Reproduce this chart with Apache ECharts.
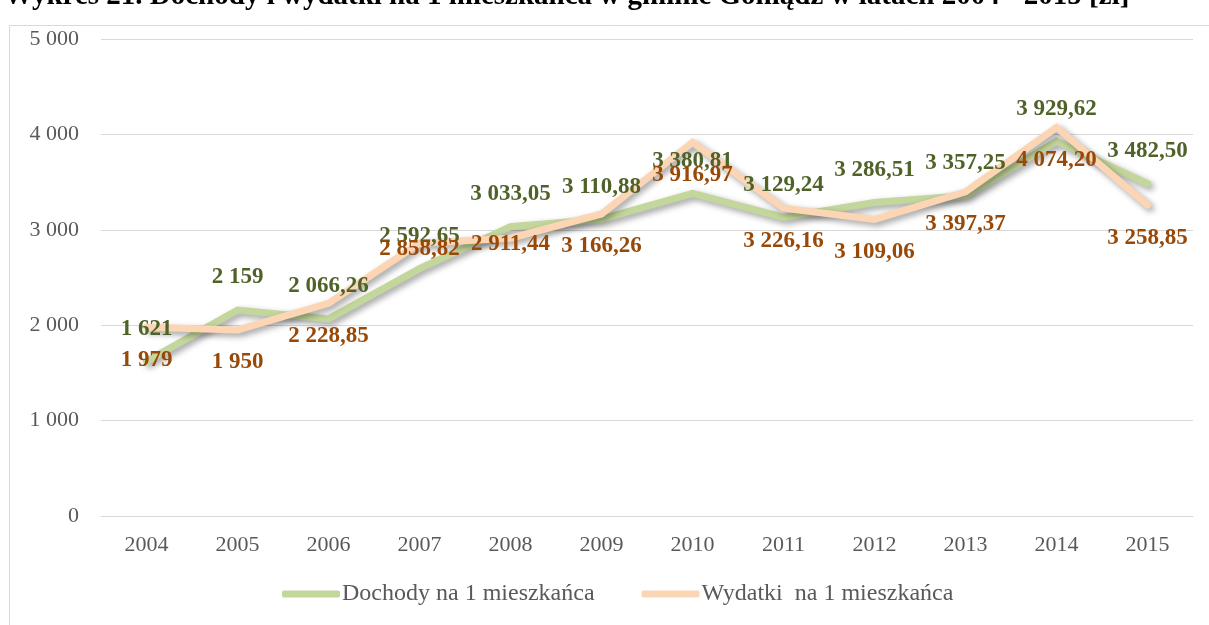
<!DOCTYPE html>
<html>
<head>
<meta charset="utf-8">
<script src="https://cdn.jsdelivr.net/npm/echarts@6/dist/echarts.min.js"></script>
<style>
  html, body { margin: 0; padding: 0; background: #fff; }
  #chart { width: 1209px; height: 625px; }
</style>
</head>
<body>
<div id="chart"></div>
<script>
var years = ['2004','2005','2006','2007','2008','2009','2010','2011','2012','2013','2014','2015'];
var dochody = [1621, 2159, 2066.26, 2592.65, 3033.05, 3110.88, 3380.81, 3129.24, 3286.51, 3357.25, 3929.62, 3482.50];
var wydatki = [1979, 1950, 2228.85, 2858.82, 2911.44, 3166.26, 3916.97, 3226.16, 3109.06, 3397.37, 4074.20, 3258.85];
var yTicks = [0, 1000, 2000, 3000, 4000, 5000];

function fmt(v) {
    var s = (Math.round(v) === v) ? String(v) : v.toFixed(2);
    var parts = s.split('.');
    var intPart = parts[0].replace(/\B(?=(\d{3})+(?!\d))/g, ' ');
    return parts.length > 1 ? intPart + ',' + parts[1] : intPart;
}

// labels of the 2007 and 2008 expenses sit on the line in the original
var wydatkiData = wydatki.map(function (v, i) {
    if (i == 3 || i == 4) {
        return { value: v, label: { position: 'inside', offset: [0, 6] } };
    }
    return v;
});

var font = 'Liberation Serif';
var green = '#c3d69b';
var peach = '#fcd5b5';

function lineSeries(name, data, color) {
    return {
        name: name,
        type: 'line',
        data: data,
        symbol: 'none',
        lineStyle: {
            width: 7, color: color, cap: 'round', join: 'miter',
            shadowColor: 'rgba(0,0,0,0.38)', shadowBlur: 6, shadowOffsetX: 3, shadowOffsetY: 3
        },
        z: 2
    };
}

// invisible series that only carry the value labels, so they sit above both lines
function labelSeries(name, data, pos, color) {
    return {
        name: name,
        type: 'line',
        data: data,
        symbol: 'circle',
        symbolSize: 2,
        showSymbol: true,
        itemStyle: { color: 'rgba(0,0,0,0)', borderWidth: 0 },
        lineStyle: { width: 0, opacity: 0 },
        label: {
            show: true,
            position: pos,
            distance: 20,
            fontFamily: font,
            fontSize: 23,
            fontWeight: 'bold',
            color: color,
            formatter: function (p) { return fmt(p.value); }
        },
        z: 5
    };
}

var option = {
    animation: false,
    textStyle: { fontFamily: font },
    graphic: [
        {
            type: 'rect',
            shape: { x: 9.5, y: 25.5, width: 1220, height: 640 },
            style: { fill: 'none', stroke: '#d9d9d9', lineWidth: 1 },
            silent: true
        },
        {
            type: 'text',
            left: 4,
            top: -18,
            style: {
                text: 'Wykres 21. Dochody i wydatki na 1 mieszkańca w gminie Goniądz w latach 2004 - 2015 [zł]',
                font: 'bold 29px "Liberation Serif"',
                fill: '#000'
            }
        }
    ],
    legend: {
        left: 282,
        top: 582,
        padding: 0,
        itemWidth: 58,
        itemHeight: 7,
        itemGap: 47,
        icon: 'roundRect',
        textStyle: { fontFamily: font, fontSize: 24, color: '#595959', padding: [0, 0, 0, -3] },
        data: [
            { name: 'Dochody na 1 mieszkańca', itemStyle: { color: green } },
            { name: 'Wydatki  na 1 mieszkańca', itemStyle: { color: peach } }
        ]
    },
    grid: { left: 101, right: 16, top: 39, bottom: 109 },
    xAxis: {
        type: 'category',
        data: years,
        boundaryGap: true,
        axisLine: { lineStyle: { color: '#d9d9d9' } },
        axisTick: { show: false },
        axisLabel: { fontFamily: font, fontSize: 22, color: '#595959', margin: 18 }
    },
    yAxis: {
        type: 'value',
        min: yTicks[0],
        max: yTicks[yTicks.length - 1],
        interval: 1000,
        axisLine: { show: false },
        axisTick: { show: false },
        splitLine: { lineStyle: { color: '#d9d9d9', width: 1 } },
        axisLabel: {
            fontFamily: font, fontSize: 22, color: '#595959', margin: 22,
            formatter: function (v) { return fmt(v); }
        }
    },
    series: [
        lineSeries('Dochody na 1 mieszkańca', dochody, green),
        lineSeries('Wydatki  na 1 mieszkańca', wydatki, peach),
        labelSeries('dochody-etykiety', dochody, 'top', '#4f6228'),
        labelSeries('wydatki-etykiety', wydatkiData, 'bottom', '#984807')
    ]
};

var myChart = echarts.init(document.getElementById('chart'));
myChart.setOption(option);
</script>
</body>
</html>
